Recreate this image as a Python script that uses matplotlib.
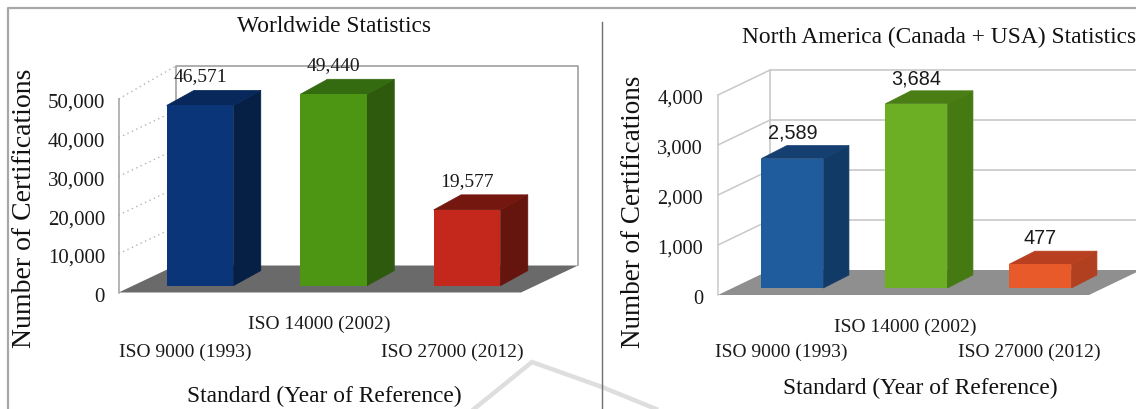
import matplotlib
matplotlib.use('Agg')
import matplotlib.pyplot as plt
from matplotlib.transforms import ScaledTranslation

# Datos de certificaciones
standards = ['ISO 9000 (1993)', 'ISO 14000 (2002)', 'ISO 27000 (2012)']
world_values = [46571, 49440, 19577]
world_ticks = [0, 10000, 20000, 30000, 40000, 50000]
na_values = [2589, 3684, 477]
na_ticks = [0, 1000, 2000, 3000, 4000]

W, H = 1136, 409
plt.rcParams['font.family'] = 'Liberation Serif'
fig = plt.figure(figsize=(W / 100, H / 100), dpi=100, facecolor='white')

# Marco de la pagina y marca de agua, en pixeles
page = fig.add_axes([0, 0, 1, 1], zorder=0)
page.set_xlim(0, W)
page.set_ylim(H, 0)
page.axis('off')
page.plot([8, 8, W], [H, 8, 8], color='#a8a8a8', lw=1.6)
page.plot([474, 532, 602], [H, 362, 387], color='#dedede', lw=3.2, solid_joinstyle='miter')
page.plot([602, 656], [387, H], color='#dedede', lw=3.2)
page.plot([602, 602], [22, H], color='#707070', lw=1.0)


def draw_panel(box, xlim, ylim, values, ticks, title, title_xy, ylabel_xy, xlabel_xy,
               colors, sides, tops, floor, wall, solid_walls, value_font,
               depth, wall_depth, lift, label_shift, sizes):
    left, right, top, bottom = box
    ax = fig.add_axes([left / W, 1 - bottom / H, (right - left) / W, (bottom - top) / H],
                      zorder=1)
    ax.patch.set_visible(False)
    ax.set_xlim(*xlim)
    ax.set_ylim(*ylim)

    def fx(px):
        return (px - left) / (right - left)

    def fy(px):
        return (bottom - px) / (bottom - top)

    cats = range(len(values))
    xmin, xmax = xlim
    wdx, wdy = wall_depth
    back_top = ylim[1] * sizes['back']

    # Suelo y paredes del grafico 3D
    ax.fill([xmin, xmax, xmax + wdx, xmin + wdx], [0, 0, wdy, wdy], color=floor,
            lw=0, clip_on=False, zorder=1)
    for t in ticks[1:]:
        val = back_top if t == ticks[-1] else t
        if solid_walls:
            ax.plot([xmin, xmin + wdx], [t, val + wdy], color=wall, lw=1.1,
                    clip_on=False, zorder=0.5)
        else:
            ax.plot([xmin, xmin + wdx], [t, val + wdy], color='#b4b4b4', lw=1.0,
                    ls=(0, (1, 2.5)), clip_on=False, zorder=0.5)
    for t in ticks[1:-1]:
        if solid_walls:
            ax.plot([xmin + wdx, xmax + wdx], [t + wdy, t + wdy], color=wall, lw=1.2,
                    clip_on=False, zorder=0.5)
    ax.plot([xmin + wdx, xmin + wdx, xmax + wdx, xmax + wdx],
            [wdy, back_top + wdy, back_top + wdy, wdy],
            color=wall, lw=1.2, clip_on=False, zorder=0.5)

    # Barras: cara frontal, lateral y superior
    dx, dy = depth
    w = 0.5
    for i in cats:
        v = values[i]
        ax.bar(i, v, width=w, bottom=lift, color=colors[i], lw=0, zorder=3, clip_on=False)
        x0, x1 = i - w / 2, i + w / 2
        base, high = lift, lift + v
        ax.fill([x1, x1 + dx, x1 + dx, x1], [base, base + dy, high + dy, high],
                facecolor=sides[i], edgecolor=sides[i], lw=0.5, zorder=2.5, clip_on=False)
        ax.fill([x0, x1, x1 + dx, x0 + dx], [high, high, high + dy, high + dy],
                facecolor=tops[i], edgecolor=tops[i], lw=0.5, zorder=2.5, clip_on=False)
        ax.annotate(f'{v:,}', (i, high + dy), xytext=(0, sizes['value_gap']),
                    textcoords='offset points',
                    ha='center', va='bottom', fontsize=sizes['value'],
                    family=value_font, color='#1a1a1a', zorder=5, annotation_clip=False)

    # Ejes
    ax.set_yticks(ticks)
    ax.set_yticklabels([f'{t:,}' for t in ticks], fontsize=sizes['tick'], color='#1a1a1a')
    ax.set_xticks([i + label_shift for i in cats])
    ax.set_xticklabels(standards, fontsize=sizes['cat'], color='#1a1a1a')
    ax.tick_params(axis='y', length=0, pad=sizes['ypad'])
    ax.tick_params(axis='x', length=0)
    for lbl in ax.get_yticklabels():
        lbl.set_transform(lbl.get_transform() + ScaledTranslation(0, -0.02, fig.dpi_scale_trans))
    for i, tick in enumerate(ax.xaxis.get_major_ticks()):
        tick.set_pad(sizes['xpad_up'] if i == 1 else sizes['xpad_low'])
    for side in ['top', 'right', 'bottom']:
        ax.spines[side].set_visible(False)
    ax.spines['left'].set_color(wall)
    ax.spines['left'].set_linewidth(1.1)

    ax.set_title(title, fontsize=sizes['title'], x=fx(title_xy[0]), y=fy(title_xy[1]),
                 va='center', color='#111111', pad=0)
    ax.set_ylabel('Number of Certifications', fontsize=sizes['ylabel'], color='#111111')
    ax.yaxis.set_label_coords(fx(ylabel_xy[0]), fy(ylabel_xy[1]))
    ax.set_xlabel('Standard (Year of Reference)', fontsize=sizes['xlabel'], color='#111111')
    ax.xaxis.set_label_coords(fx(xlabel_xy[0]), fy(xlabel_xy[1]))
    ax.xaxis.label.set_va('center')
    ax.yaxis.label.set_va('center')
    return ax


# Estadisticas mundiales
draw_panel((118.6, 521, 99, 292.5), (-0.61, 2.404), (0, 50000), world_values, world_ticks,
           'Worldwide Statistics', (334, 26), (25, 208), (324, 396),
           ['#0a3578', '#4c9614', '#c4281c'],
           ['#051f45', '#2d5a0d', '#66140e'],
           ['#08275a', '#346a10', '#74180f'],
           '#6a6a6a', '#a0a0a0', False, 'Liberation Serif',
           (0.205, 3900), (0.427, 6977), 1760, -0.11,
           {'back': 1.03, 'value': 14, 'value_gap': 3.5, 'tick': 15, 'cat': 14, 'title': 16.8,
            'ylabel': 20, 'xlabel': 16.8, 'ypad': 9.8, 'xpad_up': 17, 'xpad_low': 37})

# Estadisticas de Norteamerica
draw_panel((718, 1089, 95, 295), (-0.60, 2.392), (0, 4000), na_values, na_ticks,
           'North America (Canada + USA) Statistics', (939, 37), (633, 212), (920, 388),
           ['#1e5c9e', '#6cae24', '#e85a2a'],
           ['#123a66', '#457a12', '#b0401f'],
           ['#143f70', '#4a7e14', '#b84020'],
           '#8f8f8f', '#c8c8c8', True, 'Liberation Sans',
           (0.206, 260), (0.42, 500), 140, -0.09,
           {'back': 1.0, 'value': 14.3, 'value_gap': 2, 'tick': 14.7, 'cat': 14, 'title': 16.8,
            'ylabel': 19.5, 'xlabel': 16.8, 'ypad': 10.8, 'xpad_up': 17, 'xpad_low': 35})

fig.savefig('out.png', dpi=100)
